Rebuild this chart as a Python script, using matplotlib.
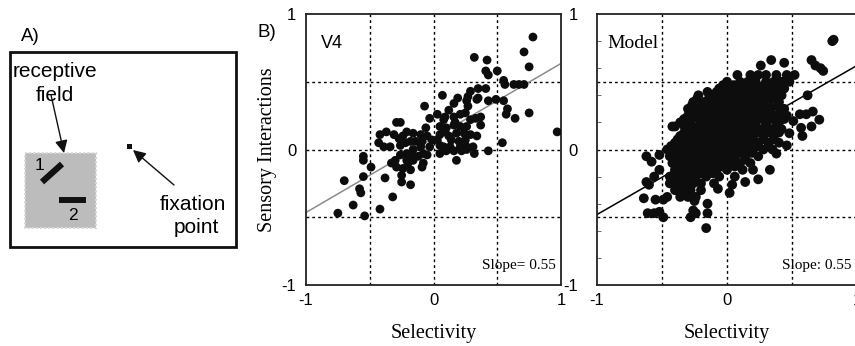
import matplotlib
matplotlib.use("Agg")
import matplotlib.pyplot as plt
from matplotlib.patches import Rectangle, FancyArrowPatch
from matplotlib.ticker import MultipleLocator
import numpy as np

SANS = "Liberation Sans"
SERIF = "Liberation Serif"

# ---------------- data ----------------
ticks = [-1, 0, 1]
tick_labels = ["-1", "0", "1"]
grid_vals = [-0.5, 0, 0.5]

v4_x = [0.78, 0.71, 0.75, 0.32, 0.42, 0.41, 0.43, 0.50, 0.55, 0.56, 0.63, 0.67, 0.71,
        0.41, 0.35, 0.29, 0.35, 0.27, 0.19, 0.07, 0.43, 0.49, 0.55, 0.58, 0.57, 0.64,
        0.75, 0.97, 0.54, 0.43, 0.32, 0.18, -0.07, -0.03, 0.03, 0.09, 0.16, 0.21, 0.25,
        0.33, 0.27, 0.26, 0.05, 0.10, 0.16, 0.21, 0.26, 0.37, 0.05, 0.12, 0.18, 0.24,
        0.29, 0.34, 0.08, 0.13, 0.21, 0.26, 0.31, -0.06, 0.05, -0.01, -0.05, -0.10,
        -0.16, -0.21, -0.24, -0.37, -0.31, -0.27, -0.42, -0.43, -0.39, -0.34, -0.29,
        -0.26, -0.10, -0.16, -0.21, -0.26, -0.33, -0.29, -0.24, -0.18, -0.16, -0.08,
        -0.12, -0.55, -0.55, -0.49, -0.38, -0.32, -0.42, -0.54, -0.75, -0.63, -0.70,
        -0.58, -0.57, -0.55, -0.25, -0.18, -0.25, -0.08, -0.03, -0.05, 0.03, 0.09,
        0.14, 0.20, 0.25, 0.29, 0.08, 0.12, 0.17, -0.18, -0.22, -0.14, -0.26, -0.09,
        -0.16, -0.21, -0.30, -0.09, -0.20, 0.05, 0.10, 0.16, 0.26, 0.22, 0.34, 0.16,
        0.37]
v4_y = [0.83, 0.72, 0.61, 0.68, 0.66, 0.58, 0.55, 0.58, 0.51, 0.48, 0.48, 0.48, 0.48,
        0.45, 0.45, 0.43, 0.38, 0.39, 0.38, 0.40, 0.36, 0.37, 0.36, 0.30, 0.26, 0.23,
        0.27, 0.13, 0.05, -0.01, -0.03, -0.08, 0.32, 0.23, 0.26, 0.24, 0.24, 0.26, 0.27,
        0.23, 0.32, 0.36, 0.17, 0.16, 0.18, 0.17, 0.17, 0.18, 0.11, 0.10, 0.12, 0.12,
        0.11, 0.10, 0.02, 0.02, 0.02, 0.02, 0.02, 0.16, 0.03, 0.07, 0.10, 0.11,
        0.12, 0.13, 0.10, 0.13, 0.11, 0.08, 0.11, 0.05, 0.02, 0.02, 0.20,
        0.20, 0.02, 0.00, -0.03, -0.04, -0.10, -0.13, -0.14, -0.15, -0.08, -0.10,
        -0.05, -0.05, -0.08, -0.13, -0.21, -0.35, -0.44, -0.49, -0.47, -0.41, -0.23,
        -0.29, -0.32, -0.20, -0.19, -0.26, -0.24, -0.03, 0.02, -0.04, 0.07, 0.13,
        0.07, 0.06, 0.07, 0.22, 0.22, 0.29, 0.20, 0.06, 0.05, 0.06, 0.03, 0.06,
        -0.05, -0.08, -0.08, -0.13, -0.10, -0.03, -0.01, -0.01, 0.00, -0.01, 0.37, 0.34,
        0.24]

model_x = [0.81, 0.82, 0.34, 0.65, 0.44, 0.26, 0.68, 0.72, 0.74,
           0.08, 0.18, 0.24, 0.30, 0.38, 0.46, 0.52,
           0.00, 0.10, 0.16, 0.22, 0.30, 0.36, 0.42, 0.48,
           -0.06, 0.02, 0.08, 0.14, 0.20, 0.26, 0.32, 0.38, 0.44,
           -0.22, -0.12, -0.05, 0.00, 0.06, 0.12, 0.18, 0.24, 0.30, 0.36, 0.42, 0.62,
           -0.26, -0.18, -0.10, -0.04, 0.02, 0.08, 0.14, 0.20, 0.26, 0.32, 0.40,
           -0.30, -0.22, -0.15, -0.08, -0.02, 0.04, 0.10, 0.16, 0.22, 0.28, 0.34, 0.44,
           0.56, 0.61, 0.66,
           -0.30, -0.24, -0.18, -0.12, -0.06, 0.00, 0.06, 0.12, 0.18, 0.24, 0.30, 0.38, 0.46,
           0.51, 0.71,
           -0.36, -0.28, -0.20, -0.14, -0.08, -0.02, 0.04, 0.10, 0.16, 0.22, 0.30, 0.40,
           -0.42, -0.40, 0.57, 0.65,
           -0.30, -0.24, -0.18, -0.12, -0.06, 0.00, 0.06, 0.12, 0.18, 0.26, 0.34, 0.42,
           0.48,
           -0.36, -0.30, -0.24, -0.18, -0.12, -0.06, 0.00, 0.06, 0.12, 0.20, 0.28, 0.36, 0.58,
           -0.40, -0.32, -0.26, -0.20, -0.14, -0.08, -0.02, 0.04, 0.10, 0.16, 0.24, 0.32, 0.40,
           0.46,
           -0.46, -0.40, -0.34, -0.28, -0.22, -0.16, -0.10, -0.04, 0.02, 0.08, 0.14, 0.20, 0.28, 0.35,
           0.38,
           -0.62, -0.52, -0.44, -0.38, -0.30, -0.24, -0.18, -0.12, -0.06, 0.00, 0.06, 0.14, 0.24,
           -0.58,
           -0.42, -0.36, -0.30, -0.24, -0.18, -0.10, -0.04, 0.02, 0.10, 0.18,
           -0.52, -0.40, -0.34, -0.28, -0.22, -0.16, -0.08, 0.00, 0.12, 0.20, 0.33,
           -0.56, -0.44, -0.36, -0.30, -0.24, -0.16, -0.06, 0.06,
           0.24, -0.62, 0.14,
           -0.44, -0.38, -0.32, -0.26, -0.20, -0.10,
           -0.60, 0.04, -0.07,
           -0.40, -0.34, -0.28, -0.20,
           0.02,
           -0.46, -0.36, -0.30, -0.24,
           -0.64, -0.55, -0.49, -0.25, -0.15, -0.26, -0.52,
           -0.61, -0.56, -0.24, -0.15, -0.49, -0.28, -0.16]
model_y = [0.80, 0.81, 0.66, 0.66, 0.64, 0.62, 0.62, 0.60, 0.58,
           0.55, 0.55, 0.55, 0.55, 0.55, 0.55, 0.55,
           0.50, 0.50, 0.50, 0.50, 0.50, 0.50, 0.50, 0.50,
           0.45, 0.45, 0.45, 0.45, 0.45, 0.45, 0.45, 0.45, 0.45,
           0.40, 0.40, 0.40, 0.40, 0.40, 0.40, 0.40, 0.40, 0.40, 0.40, 0.40, 0.40,
           0.35, 0.35, 0.35, 0.35, 0.35, 0.35, 0.35, 0.35, 0.35, 0.35, 0.35,
           0.30, 0.30, 0.30, 0.30, 0.30, 0.30, 0.30, 0.30, 0.30, 0.30, 0.30, 0.30,
           0.26, 0.26, 0.28,
           0.25, 0.25, 0.25, 0.25, 0.25, 0.25, 0.25, 0.25, 0.25, 0.25, 0.25, 0.25, 0.25,
           0.21, 0.22,
           0.20, 0.20, 0.20, 0.20, 0.20, 0.20, 0.20, 0.20, 0.20, 0.20, 0.20, 0.20,
           0.17, 0.17, 0.16, 0.17,
           0.15, 0.15, 0.15, 0.15, 0.15, 0.15, 0.15, 0.15, 0.15, 0.15, 0.15, 0.15,
           0.12,
           0.10, 0.10, 0.10, 0.10, 0.10, 0.10, 0.10, 0.10, 0.10, 0.10, 0.10, 0.10, 0.10,
           0.05, 0.05, 0.05, 0.05, 0.05, 0.05, 0.05, 0.05, 0.05, 0.05, 0.05, 0.05, 0.05,
           0.03,
           0.00, 0.00, 0.00, 0.00, 0.00, 0.00, 0.00, 0.00, 0.00, 0.00, 0.00, 0.00, 0.00, 0.00,
           -0.03,
           -0.05, -0.04, -0.05, -0.05, -0.05, -0.05, -0.05, -0.05, -0.05, -0.05, -0.05, -0.05, -0.05,
           -0.09,
           -0.10, -0.10, -0.10, -0.10, -0.10, -0.10, -0.10, -0.10, -0.10, -0.10,
           -0.15, -0.15, -0.15, -0.15, -0.15, -0.15, -0.15, -0.15, -0.15, -0.15, -0.15,
           -0.20, -0.20, -0.20, -0.20, -0.20, -0.20, -0.20, -0.20,
           -0.22, -0.24, -0.24,
           -0.25, -0.25, -0.25, -0.25, -0.25, -0.25,
           -0.26, -0.26, -0.29,
           -0.30, -0.30, -0.30, -0.30,
           -0.32,
           -0.35, -0.35, -0.35, -0.35,
           -0.36, -0.37, -0.37, -0.38, -0.40, -0.45, -0.46,
           -0.47, -0.47, -0.47, -0.47, -0.50, -0.50, -0.58]

# extra points in the dense core of the model cloud (one row per y value)
core_row_y = [0.475, 0.425, 0.375, 0.325, 0.275, 0.225, 0.175, 0.125,
              0.075, 0.025, -0.025, -0.075, -0.125, -0.175, -0.225]
core_row_x = [
    [-0.03, 0.05, 0.11, 0.17, 0.23, 0.29, 0.35, 0.41],
    [-0.15, -0.08, -0.02, 0.04, 0.10, 0.16, 0.22, 0.28, 0.34, 0.40],
    [-0.23, -0.14, -0.07, -0.01, 0.05, 0.11, 0.17, 0.23, 0.29, 0.36],
    [-0.27, -0.19, -0.12, -0.05, 0.01, 0.07, 0.13, 0.19, 0.25, 0.31, 0.39],
    [-0.27, -0.19, -0.11, -0.05, 0.01, 0.07, 0.13, 0.19, 0.25, 0.31, 0.41],
    [-0.33, -0.27, -0.21, -0.15, -0.09, -0.03, 0.03, 0.09, 0.15, 0.21, 0.27, 0.34, 0.44],
    [-0.33, -0.27, -0.21, -0.15, -0.09, -0.03, 0.03, 0.09, 0.15, 0.22, 0.30, 0.38],
    [-0.33, -0.27, -0.21, -0.15, -0.09, -0.03, 0.03, 0.09, 0.16, 0.24, 0.32, 0.40],
    [-0.38, -0.29, -0.23, -0.17, -0.11, -0.05, 0.01, 0.07, 0.13, 0.20, 0.28, 0.36],
    [-0.43, -0.37, -0.31, -0.25, -0.19, -0.13, -0.07, -0.01, 0.05, 0.11, 0.17, 0.24, 0.32],
    [-0.41, -0.35, -0.27, -0.21, -0.15, -0.09, -0.03, 0.03, 0.10, 0.19],
    [-0.39, -0.33, -0.27, -0.21, -0.14, -0.07, -0.01, 0.06, 0.14],
    [-0.37, -0.31, -0.25, -0.19, -0.12, -0.04, 0.06],
    [-0.40, -0.33, -0.27, -0.20, -0.11],
    [-0.41, -0.34, -0.27],
]

v4_fit = (0.55, 0.085)      # slope, intercept
model_fit = (0.55, 0.07)
v4_slope_text = "Slope= 0.55"
model_slope_text = "Slope: 0.55"

core_x = [x for row in core_row_x for x in row]
core_y = [y for y, row in zip(core_row_y, core_row_x) for _ in row]
model_all_x = model_x + core_x
model_all_y = model_y + core_y

# ---------------- figure ----------------
W, H = 855, 346
fig = plt.figure(figsize=(W / 100, H / 100), dpi=100)

# panel A drawn in pixel space
axA = fig.add_axes([0, 0, 1, 1])
axA.set_xlim(0, W)
axA.set_ylim(H, 0)
axA.axis("off")
axA.add_patch(Rectangle((10, 52), 226, 195, fill=False, lw=2.0, ec="#111111"))
axA.add_patch(Rectangle((25, 153), 71, 75, fc="#bcbcbc", ec="#d8d8d8", lw=1.5, ls=(0, (1, 1))))
axA.plot([42, 62], [182, 164], color="#111111", lw=4.5, solid_capstyle="butt")
axA.plot([59, 86], [200, 200], color="#111111", lw=4.3, solid_capstyle="butt")
axA.add_patch(Rectangle((127, 144), 5, 5, fc="#111111", ec="none"))
axA.text(39, 166, "1", family=SANS, fontsize=12.5, ha="center", va="center")
axA.text(73, 215, "2", family=SANS, fontsize=12.5, ha="center", va="center")
axA.text(55, 77, "receptive", family=SANS, fontsize=15, ha="center", va="baseline")
axA.text(55, 101, "field", family=SANS, fontsize=15, ha="center", va="baseline")
axA.text(193, 210, "fixation", family=SANS, fontsize=15, ha="center", va="baseline")
axA.text(196, 233, "point", family=SANS, fontsize=15, ha="center", va="baseline")
axA.text(21, 41, "A)", family=SANS, fontsize=13.5, ha="left", va="baseline")
axA.text(257, 37, "B)", family=SANS, fontsize=13.5, ha="left", va="baseline")
for (x0, y0), (x1, y1) in [((51, 95), (64, 153)), ((174, 185), (133, 150))]:
    axA.add_patch(FancyArrowPatch((x0, y0), (x1, y1), arrowstyle="-|>,head_length=5,head_width=2.5",
                                  color="#111111", lw=1.0, mutation_scale=1.5, shrinkA=0, shrinkB=0))

def make_panel(rect, xs, ys, size, fit, fit_color, label, label_font, label_size, slope_text, ypad, minor):
    ax = fig.add_axes(rect)
    ax.set_xlim(-1, 1)
    ax.set_ylim(-1, 1)
    for g in grid_vals:
        ax.axvline(g, color="black", lw=1.0, ls=(0, (2.0, 2.2)), zorder=1)
        ax.axhline(g, color="black", lw=1.0, ls=(0, (2.0, 2.2)), zorder=1)
    xx = np.array([-1.0, 1.0])
    ax.plot(xx, fit[0] * xx + fit[1], color=fit_color, lw=1.1, zorder=2)
    ax.scatter(xs, ys, s=size, color="#0d0d0d", edgecolors="none", zorder=3)
    ax.set_xticks(ticks)
    ax.set_xticklabels(tick_labels, family=SANS, fontsize=12)
    ax.set_yticks(ticks)
    ax.set_yticklabels(tick_labels, family=SANS, fontsize=12)
    ax.tick_params(axis="x", length=0, pad=6)
    ax.tick_params(axis="y", length=0, pad=ypad)
    if minor:
        ax.yaxis.set_minor_locator(MultipleLocator(0.2))
        ax.tick_params(axis="y", which="minor", direction="in", length=3, width=0.6, color="#555555")
    for s in ax.spines.values():
        s.set_linewidth(1.3)
        s.set_color("#222222")
    ax.text(0.06 if label == "V4" else 0.04, 0.89, label, transform=ax.transAxes,
            family=label_font, fontsize=label_size, ha="left", va="center", zorder=5)
    ax.text(0.98, 0.06, slope_text, transform=ax.transAxes, family=SERIF, fontsize=11,
            ha="right", va="baseline", zorder=5)
    ax.set_xlabel("Selectivity", family=SERIF, fontsize=14.5, labelpad=11)
    return ax

bottom = (H - 285) / H
height = 271 / H
ax1 = make_panel([306 / W, bottom, 255 / W, height], v4_x, v4_y, 40, v4_fit, "#8c8c8c",
                 "V4", SANS, 13, v4_slope_text, 7, False)
ax1.set_ylabel("Sensory Interactions", family=SERIF, fontsize=14.5, labelpad=3)
ax2 = make_panel([597 / W, bottom, 260 / W, height], model_all_x, model_all_y, 50, model_fit, "black",
                 "Model", SERIF, 14, model_slope_text, 14, True)

fig.savefig("out.png", dpi=100)
